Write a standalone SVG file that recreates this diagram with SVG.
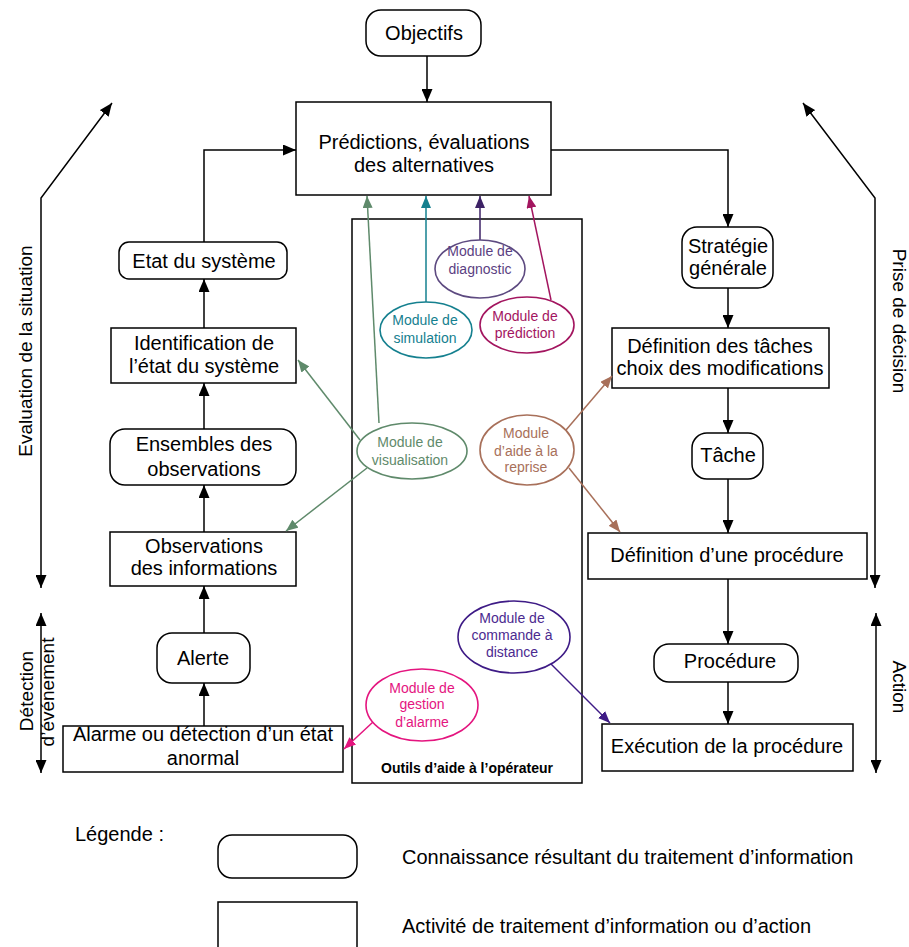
<svg xmlns="http://www.w3.org/2000/svg" width="909" height="947" viewBox="0 0 909 947">
<style>
text{font-family:"Liberation Sans",Arial,sans-serif;font-size:20px;fill:#000;text-anchor:middle}
.box{fill:#fff;stroke:#000;stroke-width:1.5}
.k{fill:none;stroke:#000;stroke-width:1.5}
.m{font-size:14px}
.lbl{font-size:19px}
.ell{fill:#fff;stroke-width:1.6}
</style>
<defs>
<marker id="ak" viewBox="0 0 13 11" refX="13" refY="5.5" markerWidth="13" markerHeight="11" markerUnits="userSpaceOnUse" orient="auto-start-reverse"><path d="M0,0 L13,5.5 L0,11 z" fill="#000"/></marker>
<marker id="ag" viewBox="0 0 12 10" refX="12" refY="5" markerWidth="12" markerHeight="10" markerUnits="userSpaceOnUse" orient="auto"><path d="M0,0 L12,5 L0,10 z" fill="#5f8a6b"/></marker>
<marker id="at" viewBox="0 0 12 10" refX="12" refY="5" markerWidth="12" markerHeight="10" markerUnits="userSpaceOnUse" orient="auto"><path d="M0,0 L12,5 L0,10 z" fill="#15808f"/></marker>
<marker id="ad" viewBox="0 0 12 10" refX="12" refY="5" markerWidth="12" markerHeight="10" markerUnits="userSpaceOnUse" orient="auto"><path d="M0,0 L12,5 L0,10 z" fill="#3d2266"/></marker>
<marker id="ap" viewBox="0 0 12 10" refX="12" refY="5" markerWidth="12" markerHeight="10" markerUnits="userSpaceOnUse" orient="auto"><path d="M0,0 L12,5 L0,10 z" fill="#a3155f"/></marker>
<marker id="ab" viewBox="0 0 12 10" refX="12" refY="5" markerWidth="12" markerHeight="10" markerUnits="userSpaceOnUse" orient="auto"><path d="M0,0 L12,5 L0,10 z" fill="#a8705a"/></marker>
<marker id="ac" viewBox="0 0 12 10" refX="12" refY="5" markerWidth="12" markerHeight="10" markerUnits="userSpaceOnUse" orient="auto"><path d="M0,0 L12,5 L0,10 z" fill="#3e1b86"/></marker>
<marker id="aa" viewBox="0 0 12 10" refX="12" refY="5" markerWidth="12" markerHeight="10" markerUnits="userSpaceOnUse" orient="auto"><path d="M0,0 L12,5 L0,10 z" fill="#e4157f"/></marker>
</defs>
<rect width="909" height="947" fill="#fff"/>

<g id="outils">
<rect class="box" x="352" y="219" width="230" height="564"/>
<text x="467" y="773" style="font-size:14px;font-weight:bold">Outils d’aide à l’opérateur</text>
</g>

<g id="objectifs"><rect class="box" x="366" y="10" width="115" height="46" rx="15"/><text x="424" y="40">Objectifs</text></g>
<g id="predictions"><rect class="box" x="296" y="102" width="255" height="93"/><text x="424" y="149">Prédictions, évaluations</text><text x="424" y="172">des alternatives</text></g>

<g id="etat"><rect class="box" x="119" y="242" width="168" height="37" rx="10"/><text x="204" y="268">Etat du système</text></g>
<g id="identification"><rect class="box" x="111" y="328" width="185" height="55"/><text x="204" y="350">Identification de</text><text x="204" y="373">l’état du système</text></g>
<g id="ensembles"><rect class="box" x="110" y="429" width="186" height="56" rx="15"/><text x="204" y="451">Ensembles des</text><text x="204" y="476">observations</text></g>
<g id="observations"><rect class="box" x="110" y="532" width="186" height="54"/><text x="204" y="553">Observations</text><text x="204" y="575">des informations</text></g>
<g id="alerte"><rect class="box" x="157" y="633" width="93" height="50" rx="15"/><text x="203" y="665">Alerte</text></g>
<g id="alarme"><rect class="box" x="63" y="726" width="280" height="46"/><text x="203" y="741">Alarme ou détection d’un état</text><text x="203" y="765">anormal</text></g>

<g id="strategie"><rect class="box" x="682" y="227" width="91" height="61" rx="15"/><text x="728" y="253">Stratégie</text><text x="728" y="275">générale</text></g>
<g id="def-taches"><rect class="box" x="612" y="328" width="217" height="60"/><text x="720" y="353">Définition des tâches</text><text x="720" y="375">choix des modifications</text></g>
<g id="tache"><rect class="box" x="692" y="433" width="71" height="46" rx="15"/><text x="728" y="462">Tâche</text></g>
<g id="def-procedure"><rect class="box" x="588" y="533" width="279" height="46"/><text x="727" y="562">Définition d’une procédure</text></g>
<g id="procedure"><rect class="box" x="654" y="644" width="144" height="38" rx="15"/><text x="730" y="668">Procédure</text></g>
<g id="execution"><rect class="box" x="602" y="724" width="251" height="47"/><text x="727" y="753">Exécution de la procédure</text></g>

<g id="connectors">
<path class="k" d="M427,56 V102" marker-end="url(#ak)"/>
<path class="k" d="M204,242 V150 H296" marker-end="url(#ak)"/>
<path class="k" d="M204,328 V279" marker-end="url(#ak)"/>
<path class="k" d="M204,429 V383" marker-end="url(#ak)"/>
<path class="k" d="M204,532 V485" marker-end="url(#ak)"/>
<path class="k" d="M204,633 V586" marker-end="url(#ak)"/>
<path class="k" d="M204,726 V683" marker-end="url(#ak)"/>
<path class="k" d="M551,150 H728 V227" marker-end="url(#ak)"/>
<path class="k" d="M728,288 V328" marker-end="url(#ak)"/>
<path class="k" d="M728,388 V433" marker-end="url(#ak)"/>
<path class="k" d="M728,479 V533" marker-end="url(#ak)"/>
<path class="k" d="M728,579 V644" marker-end="url(#ak)"/>
<path class="k" d="M728,682 V724" marker-end="url(#ak)"/>
<path class="k" d="M112,103 L41,198 V588" marker-start="url(#ak)" marker-end="url(#ak)"/>
<path class="k" d="M803,103 L875,198 V588" marker-start="url(#ak)" marker-end="url(#ak)"/>
<path class="k" d="M41,613 V773" marker-start="url(#ak)" marker-end="url(#ak)"/>
<path class="k" d="M876,613 V773" marker-start="url(#ak)" marker-end="url(#ak)"/>
<path d="M379,423 L367,196" stroke="#5f8a6b" stroke-width="1.5" fill="none" marker-end="url(#ag)"/>
<path d="M360,440 L298,360" stroke="#5f8a6b" stroke-width="1.5" fill="none" marker-end="url(#ag)"/>
<path d="M367,468 L286,531" stroke="#5f8a6b" stroke-width="1.5" fill="none" marker-end="url(#ag)"/>
<path d="M426,302 V196" stroke="#15808f" stroke-width="1.5" fill="none" marker-end="url(#at)"/>
<path d="M480,240 V196" stroke="#3d2266" stroke-width="1.5" fill="none" marker-end="url(#ad)"/>
<path d="M551,300 L529,196" stroke="#a3155f" stroke-width="1.5" fill="none" marker-end="url(#ap)"/>
<path d="M566,430 L612,376" stroke="#a8705a" stroke-width="1.5" fill="none" marker-end="url(#ab)"/>
<path d="M569,468 L620,532" stroke="#a8705a" stroke-width="1.5" fill="none" marker-end="url(#ab)"/>
<path d="M551,664 L610,723" stroke="#3e1b86" stroke-width="1.5" fill="none" marker-end="url(#ac)"/>
<path d="M373,722 L344,749" stroke="#e4157f" stroke-width="1.5" fill="none" marker-end="url(#aa)"/>
</g>

<g id="mod-diagnostic"><ellipse class="ell" cx="480" cy="269" rx="45" ry="29" stroke="#5d4a80"/><text class="m" x="480" y="256" style="fill:#5b3f82">Module de</text><text class="m" x="480" y="274" style="fill:#5b3f82">diagnostic</text></g>
<g id="mod-simulation"><ellipse class="ell" cx="426" cy="330" rx="46" ry="28" stroke="#15808f"/><text class="m" x="425" y="325" style="fill:#15808f">Module de</text><text class="m" x="425" y="343" style="fill:#15808f">simulation</text></g>
<g id="mod-prediction"><ellipse class="ell" cx="527" cy="325" rx="47" ry="28" stroke="#a3155f"/><text class="m" x="525" y="321" style="fill:#a3155f">Module de</text><text class="m" x="525" y="338" style="fill:#a3155f">prédiction</text></g>
<g id="mod-visualisation"><ellipse class="ell" cx="412" cy="451" rx="55" ry="28" stroke="#5f8a6b"/><text class="m" x="410" y="447" style="fill:#5f8a6b">Module de</text><text class="m" x="410" y="465" style="fill:#5f8a6b">visualisation</text></g>
<g id="mod-reprise"><ellipse class="ell" cx="527" cy="450" rx="47" ry="35" stroke="#a8705a"/><text class="m" x="526" y="438" style="fill:#a8705a">Module</text><text class="m" x="526" y="456" style="fill:#a8705a">d’aide à la</text><text class="m" x="526" y="472" style="fill:#a8705a">reprise</text></g>
<g id="mod-commande"><ellipse class="ell" cx="514" cy="637" rx="56" ry="36" stroke="#3e1b86"/><text class="m" x="512" y="623" style="fill:#4b2a90">Module de</text><text class="m" x="512" y="640" style="fill:#4b2a90">commande à</text><text class="m" x="512" y="657" style="fill:#4b2a90">distance</text></g>
<g id="mod-alarme"><ellipse class="ell" cx="422" cy="705" rx="56" ry="36" stroke="#e4157f"/><text class="m" x="422" y="693" style="fill:#e4157f">Module de</text><text class="m" x="422" y="709" style="fill:#e4157f">gestion</text><text class="m" x="422" y="727" style="fill:#e4157f">d’alarme</text></g>

<g id="labels">
<text class="lbl" transform="translate(32,351) rotate(-90)">Evaluation de la situation</text>
<text class="lbl" transform="translate(893,321) rotate(90)">Prise de décision</text>
<text class="lbl" transform="translate(33,691) rotate(-90)">Détection</text>
<text class="lbl" transform="translate(54,692) rotate(-90)">d’événement</text>
<text class="lbl" transform="translate(893,687) rotate(90)">Action</text>
</g>

<g id="legende">
<text x="75" y="841" style="text-anchor:start">Légende :</text>
<rect class="box" x="218" y="835" width="139" height="43" rx="14"/>
<text x="402" y="864" style="text-anchor:start">Connaissance résultant du traitement d’information</text>
<rect class="box" x="218" y="902" width="139" height="50"/>
<text x="402" y="933" style="text-anchor:start">Activité de traitement d’information ou d’action</text>
</g>
</svg>
